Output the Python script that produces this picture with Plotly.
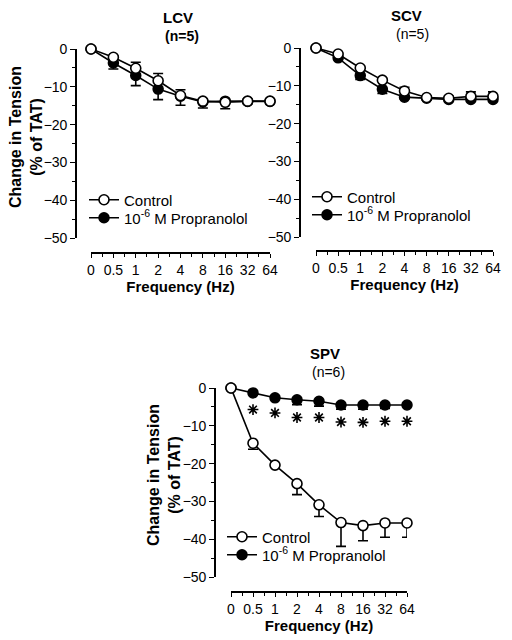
import plotly.graph_objects as go

# ---------------- data ----------------
freq_labels = ["0", "0.5", "1", "2", "4", "8", "16", "32", "64"]

lcv_control = [0, -2.2, -5.1, -8.4, -12.3, -13.8, -14.1, -13.8, -13.8]
lcv_control_err = [0, 0.4, 1.6, 1.9, 1.5, 0.6, 0.6, 0.4, 0.4]
lcv_prop = [0, -3.7, -7.0, -10.6, -12.5, -14.0, -13.8, -13.9, -13.9]
lcv_prop_err = [0, 1.6, 2.7, 2.8, 2.4, 1.6, 2.0, 0.6, 0.6]

scv_control = [0, -1.6, -5.3, -8.5, -11.4, -13.1, -13.3, -12.8, -12.8]
scv_control_err = [0, 0.3, 0.5, 0.5, 1.0, 0.4, 0.6, 1.2, 1.2]
scv_prop = [0, -2.6, -7.3, -10.9, -13.0, -13.3, -13.6, -13.6, -13.6]
scv_prop_err = [0, 0.4, 1.0, 1.1, 0.5, 0.4, 0.4, 0.4, 0.4]

spv_control = [0, -14.6, -20.4, -25.3, -30.9, -35.6, -36.4, -35.7, -35.7]
spv_control_err = [0, 1.6, 0.5, 2.9, 3.1, 6.3, 4.0, 3.8, 3.8]
spv_prop = [0, -1.3, -2.6, -3.1, -3.5, -4.5, -4.5, -4.5, -4.5]
spv_prop_err = [0, 0.3, 0.4, 1.3, 1.3, 1.1, 1.1, 0.9, 0.4]
spv_star_y = [None, -5.7, -6.6, -7.8, -7.8, -9.0, -9.1, -8.8, -8.8]

W, H = 512, 640
x_pos = list(range(len(freq_labels)))
FONT = "Liberation Sans, Arial, sans-serif"


def px(x):
    return x / W


def py(y):
    return 1 - y / H


fig = go.Figure()

panels = [
    dict(ctrl=lcv_control, cerr=lcv_control_err, cup=True, prop=lcv_prop, perr=lcv_prop_err,
         xd=(91, 270), yd=(49, 238), yax=76, xax=253,
         lg=("legend", "legend2"), lgx=84, lgy=(200, 218)),
    dict(ctrl=scv_control, cerr=scv_control_err, cup=True, prop=scv_prop, perr=scv_prop_err,
         xd=(316, 493), yd=(48, 237), yax=300, xax=251,
         lg=("legend3", "legend4"), lgx=307, lgy=(197, 215)),
    dict(ctrl=spv_control, cerr=spv_control_err, cup=False, prop=spv_prop, perr=spv_prop_err,
         xd=(231, 407), yd=(388, 577), yax=215, xax=592,
         lg=("legend5", "legend6"), lgx=222, lgy=(537, 555)),
]

legend_common = dict(bgcolor="rgba(0,0,0,0)", borderwidth=0, xanchor="left", yanchor="middle",
                     font=dict(family=FONT, size=15, color="black"), itemwidth=30)

for i, p in enumerate(panels):
    s = "" if i == 0 else str(i + 1)
    zeros = [0] * len(x_pos)
    # Propranolol (filled) - error bars downward
    fig.add_trace(go.Scatter(
        x=x_pos, y=p["prop"], mode="lines+markers",
        name="10<sup>-6</sup> M Propranolol",
        line=dict(color="black", width=1.6),
        marker=dict(symbol="circle", size=10, color="black", line=dict(color="black", width=1.5)),
        error_y=dict(type="data", symmetric=False, array=zeros, arrayminus=p["perr"],
                     color="black", thickness=1.6, width=5),
        xaxis="x" + s, yaxis="y" + s, legend=p["lg"][1], cliponaxis=False,
    ))
    # Control (open)
    if p["cup"]:
        ey = dict(type="data", symmetric=False, array=p["cerr"], arrayminus=zeros,
                  color="black", thickness=1.6, width=5)
    else:
        ey = dict(type="data", symmetric=False, array=zeros, arrayminus=p["cerr"],
                  color="black", thickness=1.6, width=5)
    fig.add_trace(go.Scatter(
        x=x_pos, y=p["ctrl"], mode="lines+markers", name="Control",
        line=dict(color="black", width=1.6),
        marker=dict(symbol="circle", size=10, color="white", line=dict(color="black", width=1.6)),
        error_y=ey,
        xaxis="x" + s, yaxis="y" + s, legend=p["lg"][0], cliponaxis=False,
    ))

    fig.layout[p["lg"][0]] = dict(x=px(p["lgx"]), y=py(p["lgy"][0]), **legend_common)
    fig.layout[p["lg"][1]] = dict(x=px(p["lgx"]), y=py(p["lgy"][1]), **legend_common)

    fig.layout["xaxis" + s] = dict(
        domain=[px(p["xd"][0]), px(p["xd"][1])], range=[0, 8],
        anchor="free", position=py(p["xax"]),
        tickmode="array", tickvals=x_pos, ticktext=freq_labels,
        showline=True, linecolor="black", linewidth=1.6,
        ticks="outside", ticklen=4, tickwidth=1.4, tickcolor="black",
        minor=dict(dtick=0.5, tick0=0, ticks="outside", ticklen=3, tickwidth=1.2, tickcolor="black"),
        showgrid=False, zeroline=False, automargin=False,
        tickfont=dict(family=FONT, size=14, color="black"),
        title=dict(text="<b>Frequency (Hz)</b>", font=dict(family=FONT, size=15, color="black"), standoff=2),
    )
    fig.layout["yaxis" + s] = dict(
        domain=[py(p["yd"][1]), py(p["yd"][0])], range=[-50, 0],
        anchor="free", position=px(p["yax"]),
        tickmode="linear", tick0=0, dtick=10,
        showline=True, linecolor="black", linewidth=1.6,
        ticks="outside", ticklen=5, tickwidth=1.4, tickcolor="black",
        minor=dict(dtick=5, tick0=0, ticks="outside", ticklen=3, tickwidth=1.2, tickcolor="black"),
        showgrid=False, zeroline=False, automargin=False,
        tickfont=dict(family=FONT, size=14, color="black"),
    )

# stars for SPV
fig.add_trace(go.Scatter(
    x=x_pos, y=spv_star_y, mode="markers", showlegend=False,
    marker=dict(symbol="asterisk-open", size=9, color="black", line=dict(color="black", width=1.6)),
    xaxis="x3", yaxis="y3", cliponaxis=False,
))

annots = [
    dict(text="<b>LCV</b>", x=178, y=18, size=15),
    dict(text="<b>(n=5)</b>", x=182, y=36, size=14),
    dict(text="<b>SCV</b>", x=406, y=15, size=15),
    dict(text="(n=5)", x=412, y=34, size=14),
    dict(text="<b>SPV</b>", x=325, y=353, size=15),
    dict(text="(n=6)", x=328, y=372, size=14),
]
for a in annots:
    fig.add_annotation(text=a["text"], x=px(a["x"]), y=py(a["y"]), xref="paper", yref="paper",
                       showarrow=False, xanchor="center", yanchor="middle",
                       font=dict(family=FONT, size=a["size"], color="black"))

for (cx, cy) in [(26, 137), (164, 475)]:
    fig.add_annotation(text="<b>Change in Tension<br>(% of TAT)</b>", x=px(cx), y=py(cy),
                       xref="paper", yref="paper", showarrow=False, textangle=-90,
                       xanchor="center", yanchor="middle",
                       font=dict(family=FONT, size=16, color="black"))

fig.update_layout(
    width=W, height=H, margin=dict(l=0, r=0, t=0, b=0, autoexpand=False),
    paper_bgcolor="white", plot_bgcolor="white",
    font=dict(family=FONT, color="black"),
)

fig.write_html("out.html", config={"displayModeBar": False},
               post_script="document.body.style.margin='0px';")
